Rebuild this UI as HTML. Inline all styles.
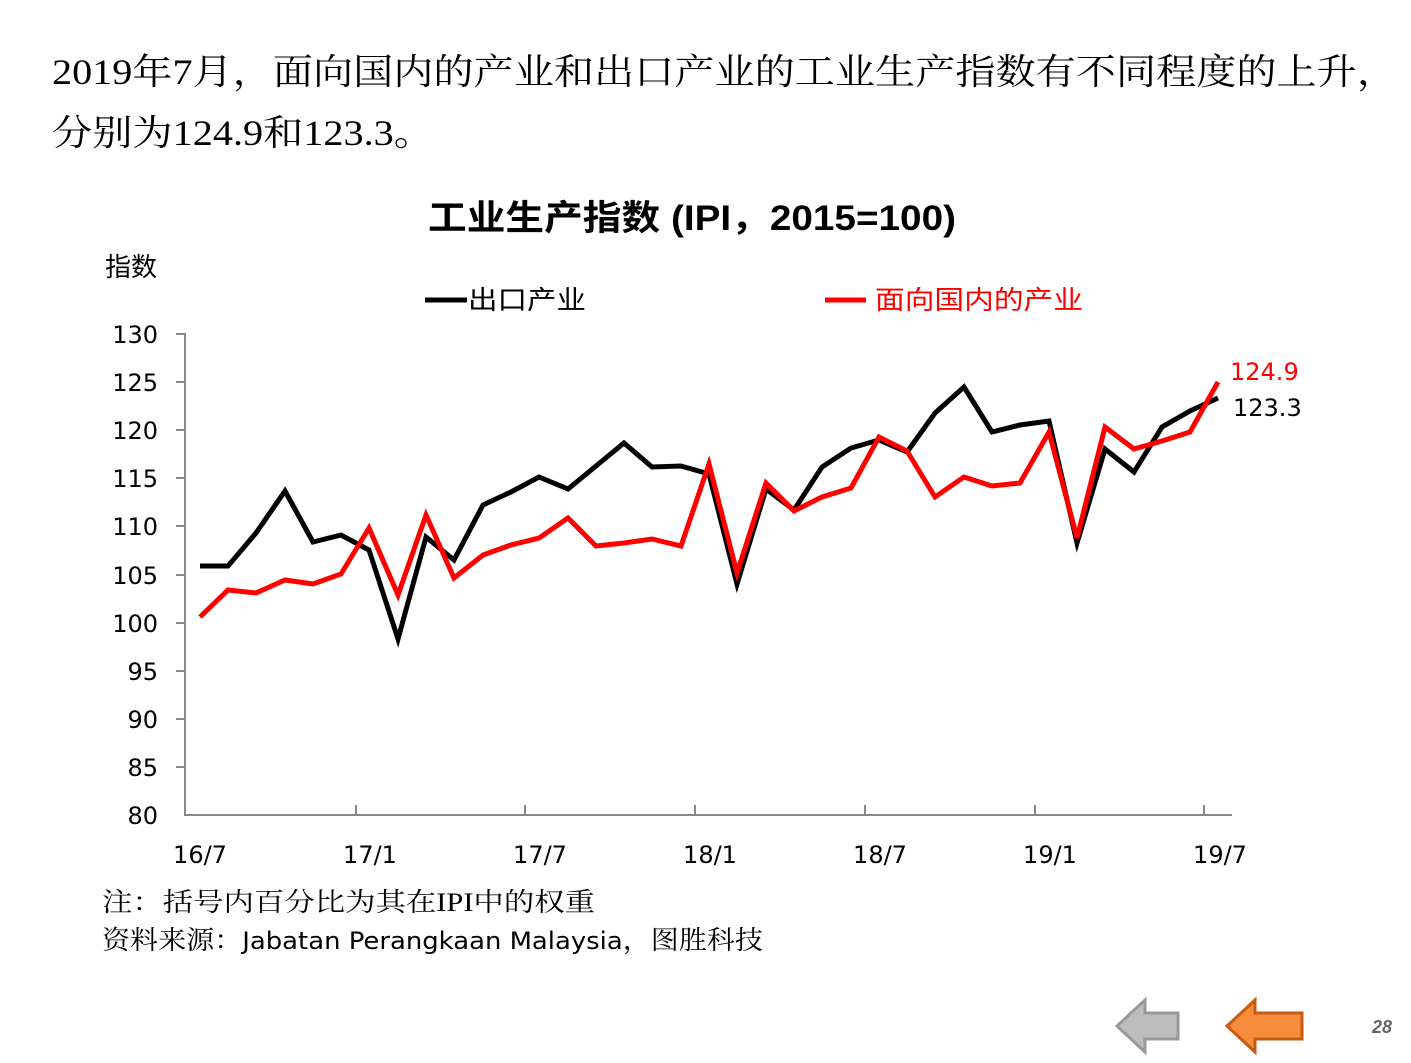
<!DOCTYPE html>
<html><head><meta charset="utf-8"><style>
body{margin:0;width:1411px;height:1058px;background:#fff;overflow:hidden;font-family:"Liberation Sans","Noto Sans CJK SC",sans-serif}
</style></head><body>
<svg width="1411" height="1058" xmlns="http://www.w3.org/2000/svg">
<g font-family="'Liberation Serif','Noto Serif CJK SC',serif" font-size="36" fill="#000">
<text x="52" y="84" textLength="1345" lengthAdjust="spacingAndGlyphs">2019年7月，面向国内的产业和出口产业的工业生产指数有不同程度的上升，</text>
<text x="52" y="145" textLength="382" lengthAdjust="spacingAndGlyphs">分别为124.9和123.3。</text>
</g>
<text x="428" y="230" textLength="528" lengthAdjust="spacingAndGlyphs" font-size="35" font-weight="bold" font-family="'Liberation Sans','Noto Sans CJK SC',sans-serif">工业生产指数 (IPI，2015=100)</text>
<text x="105" y="276" font-size="26" font-family="'Liberation Sans','Noto Sans CJK SC',sans-serif">指数</text>
<line x1="425" y1="300" x2="467" y2="300" stroke="#000" stroke-width="5"/>
<text x="468" y="309" font-size="26" textLength="118" lengthAdjust="spacingAndGlyphs" font-family="'Liberation Sans','Noto Sans CJK SC',sans-serif">出口产业</text>
<line x1="825" y1="300" x2="866" y2="300" stroke="#f00" stroke-width="5"/>
<text x="875" y="309" font-size="26" fill="#f00" textLength="208" lengthAdjust="spacingAndGlyphs" font-family="'Liberation Sans','Noto Sans CJK SC',sans-serif">面向国内的产业</text>
<g stroke="#888" stroke-width="2">
<line x1="185" y1="333" x2="185" y2="816"/>
<line x1="184" y1="815" x2="1232" y2="815"/>
<line x1="176" y1="334" x2="185" y2="334"/><line x1="176" y1="382" x2="185" y2="382"/><line x1="176" y1="430" x2="185" y2="430"/><line x1="176" y1="478" x2="185" y2="478"/><line x1="176" y1="526" x2="185" y2="526"/><line x1="176" y1="575" x2="185" y2="575"/><line x1="176" y1="623" x2="185" y2="623"/><line x1="176" y1="671" x2="185" y2="671"/><line x1="176" y1="719" x2="185" y2="719"/><line x1="176" y1="767" x2="185" y2="767"/>
<line x1="356" y1="805" x2="356" y2="815"/><line x1="525" y1="805" x2="525" y2="815"/><line x1="695" y1="805" x2="695" y2="815"/><line x1="865" y1="805" x2="865" y2="815"/><line x1="1035" y1="805" x2="1035" y2="815"/><line x1="1204" y1="805" x2="1204" y2="815"/>
</g>
<g font-size="24" text-anchor="end" font-family="'DejaVu Sans',sans-serif">
<text x="158" y="343">130</text><text x="158" y="391">125</text><text x="158" y="439">120</text><text x="158" y="487">115</text><text x="158" y="535">110</text><text x="158" y="584">105</text><text x="158" y="632">100</text><text x="158" y="680">95</text><text x="158" y="728">90</text><text x="158" y="776">85</text><text x="158" y="824">80</text>
</g>
<g font-size="24" text-anchor="middle" font-family="'DejaVu Sans',sans-serif">
<text x="200" y="863">16/7</text><text x="370" y="863">17/1</text><text x="540" y="863">17/7</text><text x="710" y="863">18/1</text><text x="880" y="863">18/7</text><text x="1050" y="863">19/1</text><text x="1220" y="863">19/7</text>
</g>
<polyline fill="none" stroke="#000" stroke-width="5" stroke-linejoin="miter" points="200,566 228,566 256,533 285,491 313,542 341,535 369,550 398,639 426,537 454,560 483,505 511,492 539,477 568,489 596,466 624,443 652,467 681,466 709,474 737,584 766,489 794,510 822,467 851,448 879,440 907,452 935,413 964,387 992,432 1020,425 1049,421 1077,543 1105,449 1134,472 1162,427 1190,411 1218,398"/>
<polyline fill="none" stroke="#f00" stroke-width="5" points="200,617 228,590 256,593 285,580 313,584 341,574 369,528 398,595 426,515 454,578 483,555 511,545 539,538 568,518 596,546 624,543 652,539 681,546 709,464 737,573 766,483 794,511 822,497 851,488 879,437 907,451 935,497 964,477 992,486 1020,483 1049,432 1077,538 1105,427 1134,449 1162,441 1190,432 1218,382"/>
<text x="1230" y="380" font-size="24" fill="#f00" font-family="'DejaVu Sans',sans-serif">124.9</text>
<text x="1233" y="416" font-size="24" font-family="'DejaVu Sans',sans-serif">123.3</text>
<g font-size="26" font-family="'Liberation Serif','Noto Serif CJK SC',serif">
<text x="102" y="911" textLength="493" lengthAdjust="spacingAndGlyphs">注：括号内百分比为其在IPI中的权重</text>
<text x="102" y="949" textLength="661" lengthAdjust="spacingAndGlyphs">资料来源：<tspan font-family="'DejaVu Sans',sans-serif" font-size="24">Jabatan Perangkaan Malaysia</tspan>，图胜科技</text>
</g>
<polygon points="1117,1026 1145,1000 1145,1013 1178,1013 1178,1039 1145,1039 1145,1052" fill="#bdbdbd" stroke="#999" stroke-width="3"/>
<polygon points="1227,1026 1255,1000 1255,1013 1302,1013 1302,1039 1255,1039 1255,1052" fill="#f68c3c" stroke="#c95a14" stroke-width="3"/>
<text x="1392" y="1033" font-size="18" font-style="italic" font-weight="bold" fill="#666" text-anchor="end">28</text>
</svg>
</body></html>
